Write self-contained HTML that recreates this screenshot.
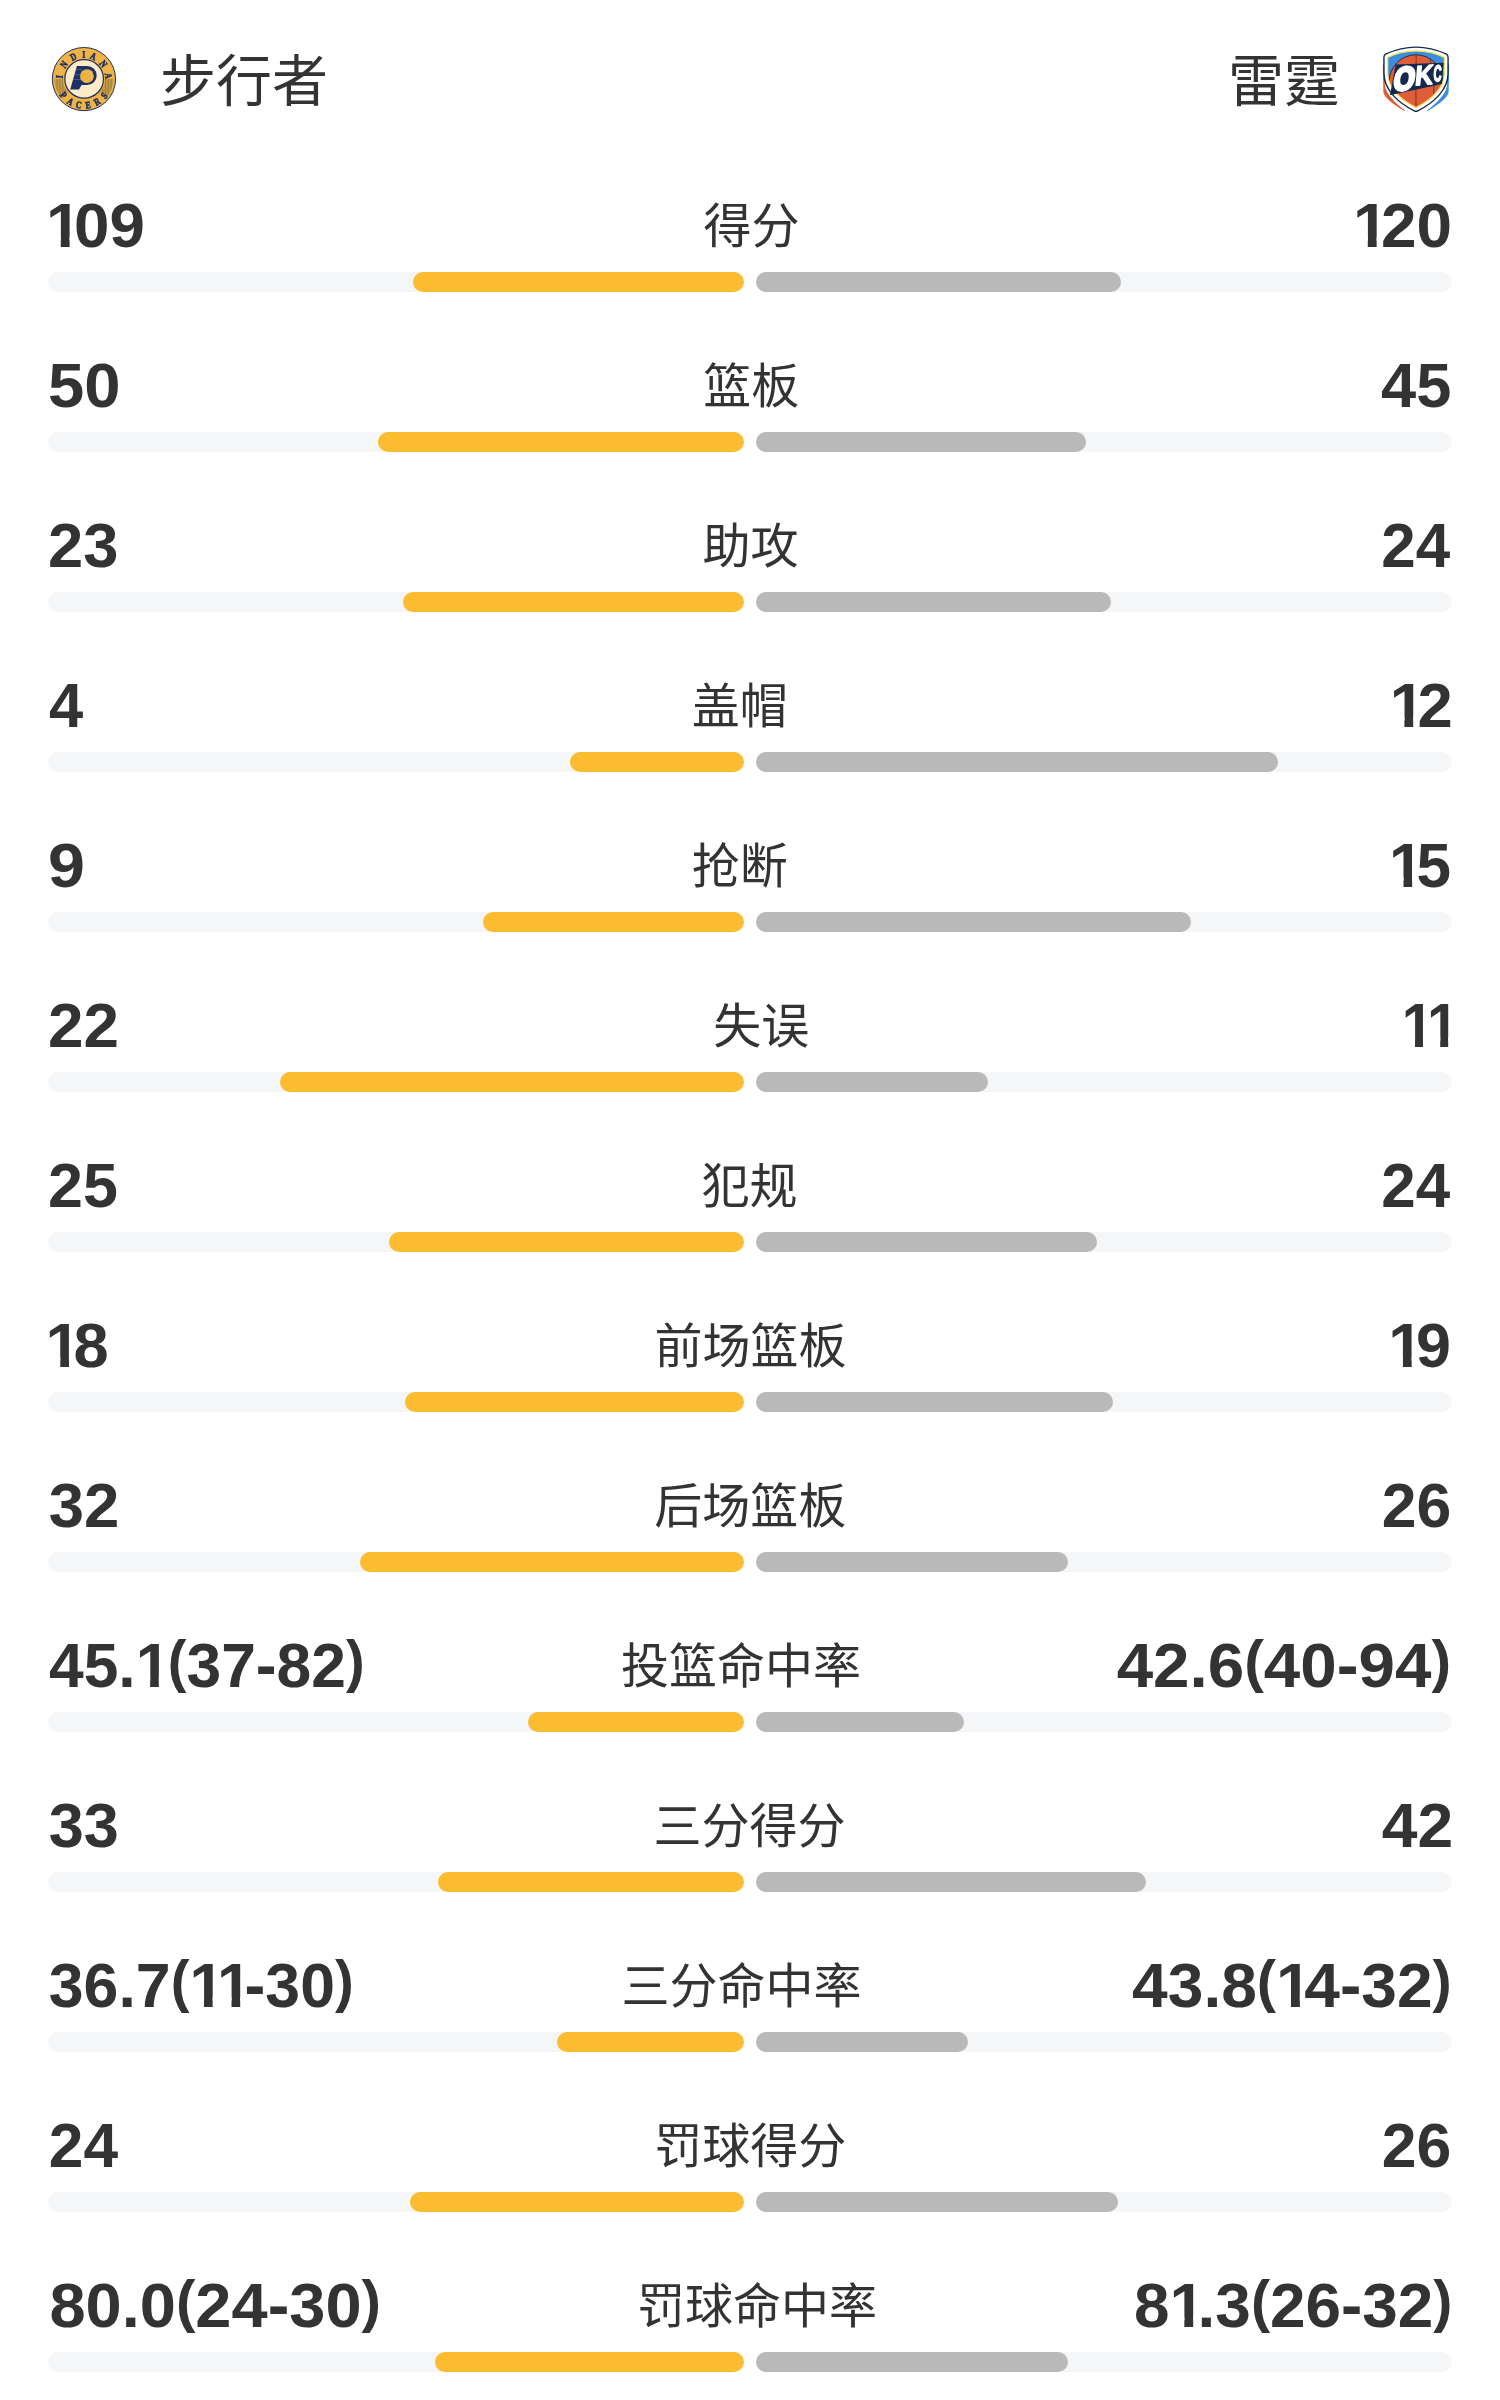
<!DOCTYPE html>
<html lang="zh-CN"><head><meta charset="utf-8"><title>技术统计</title>
<style>
html,body{margin:0;padding:0;background:#fff;}
body{width:1500px;height:2400px;position:relative;overflow:hidden;color:#333333;}
.nl,.nr,.lab,.team{filter:grayscale(1);}
.team{position:absolute;top:0;font-family:"Liberation Sans","Noto Sans CJK SC",sans-serif;font-size:56px;line-height:56px;white-space:nowrap;}
.logo{position:absolute;will-change:transform;}
.row{position:absolute;left:0;width:1500px;height:160px;}
.nl,.nr{position:absolute;top:194px;font-family:"Liberation Sans",sans-serif;font-weight:bold;font-size:63px;line-height:63px;white-space:nowrap;}
.nl{left:48px;transform-origin:0 50%;}
.p{font-size:56.7px;position:relative;top:-6.3px;}
.onep{margin-right:-2.5px !important;}
.one{display:inline-block;margin-right:-7.3px;clip-path:polygon(0 0,100% 0,100% 43px,23.4px 43px,23.4px 100%,14.65px 100%,14.65px 43px,0 43px);}
.nr{right:48px;transform-origin:100% 50%;}
.lab{position:absolute;top:203px;font-family:"Liberation Sans","Noto Sans CJK SC",sans-serif;font-size:48px;line-height:48px;white-space:nowrap;}
.tr{position:absolute;top:272px;height:20px;width:696px;border-radius:10px;background:#f5f6f8;}
.tl{left:48px;} .trr{left:756px;}
.bar{position:absolute;top:272px;height:20px;border-radius:10px;}
.by{background:#fbbc2f;} .bg{left:756px;background:#b9b9b9;}
</style></head><body>
<div class="logo" style="left:48px;top:43px;width:72px;height:72px"><svg width="72" height="72" viewBox="0 0 72 72">
<circle cx="35.95" cy="36.1" r="31.6" fill="#efb443" stroke="#1d2f66" stroke-width="1"/>
<clipPath id="pc_netL"><path d="M6.55 36.10 A29.4 29.4 0 0 0 13.76 55.39 L20.18 49.81 A20.9 20.9 0 0 1 15.05 36.10 Z"/></clipPath>
<clipPath id="pc_netR"><path d="M65.35 36.10 A29.4 29.4 0 0 1 58.14 55.39 L51.72 49.81 A20.9 20.9 0 0 0 56.85 36.10 Z"/></clipPath>
<g clip-path="url(#pc_netL)"><line x1="6.60" y1="30" x2="6.60" y2="60" stroke="#7a6844" stroke-width="0.75"/><line x1="8.15" y1="30" x2="8.15" y2="60" stroke="#7a6844" stroke-width="0.75"/><line x1="9.70" y1="30" x2="9.70" y2="60" stroke="#7a6844" stroke-width="0.75"/><line x1="11.25" y1="30" x2="11.25" y2="60" stroke="#7a6844" stroke-width="0.75"/><line x1="12.80" y1="30" x2="12.80" y2="60" stroke="#7a6844" stroke-width="0.75"/><line x1="14.35" y1="30" x2="14.35" y2="60" stroke="#7a6844" stroke-width="0.75"/><line x1="15.90" y1="30" x2="15.90" y2="60" stroke="#7a6844" stroke-width="0.75"/><line x1="17.45" y1="30" x2="17.45" y2="60" stroke="#7a6844" stroke-width="0.75"/><line x1="19.00" y1="30" x2="19.00" y2="60" stroke="#7a6844" stroke-width="0.75"/><line x1="20.55" y1="30" x2="20.55" y2="60" stroke="#7a6844" stroke-width="0.75"/><line x1="22.10" y1="30" x2="22.10" y2="60" stroke="#7a6844" stroke-width="0.75"/><line x1="23.65" y1="30" x2="23.65" y2="60" stroke="#7a6844" stroke-width="0.75"/></g>
<g clip-path="url(#pc_netR)"><line x1="65.30" y1="30" x2="65.30" y2="60" stroke="#7a6844" stroke-width="0.75"/><line x1="63.75" y1="30" x2="63.75" y2="60" stroke="#7a6844" stroke-width="0.75"/><line x1="62.20" y1="30" x2="62.20" y2="60" stroke="#7a6844" stroke-width="0.75"/><line x1="60.65" y1="30" x2="60.65" y2="60" stroke="#7a6844" stroke-width="0.75"/><line x1="59.10" y1="30" x2="59.10" y2="60" stroke="#7a6844" stroke-width="0.75"/><line x1="57.55" y1="30" x2="57.55" y2="60" stroke="#7a6844" stroke-width="0.75"/><line x1="56.00" y1="30" x2="56.00" y2="60" stroke="#7a6844" stroke-width="0.75"/><line x1="54.45" y1="30" x2="54.45" y2="60" stroke="#7a6844" stroke-width="0.75"/><line x1="52.90" y1="30" x2="52.90" y2="60" stroke="#7a6844" stroke-width="0.75"/><line x1="51.35" y1="30" x2="51.35" y2="60" stroke="#7a6844" stroke-width="0.75"/><line x1="49.80" y1="30" x2="49.80" y2="60" stroke="#7a6844" stroke-width="0.75"/><line x1="48.25" y1="30" x2="48.25" y2="60" stroke="#7a6844" stroke-width="0.75"/></g>
<circle cx="36.150000000000006" cy="35.9" r="19.3" fill="#fdebc7" stroke="#1d2f66" stroke-width="1.2"/>
<text x="0" y="3.6" transform="translate(11.16 33.71) rotate(275.5) scale(0.78 1)" text-anchor="middle" font-family="Liberation Serif, serif" font-weight="bold" font-size="10" fill="#1d2f66" stroke="#1d2f66" stroke-width="0.55">I</text>
<text x="0" y="3.6" transform="translate(15.81 21.46) rotate(306.0) scale(0.78 1)" text-anchor="middle" font-family="Liberation Serif, serif" font-weight="bold" font-size="10" fill="#1d2f66" stroke="#1d2f66" stroke-width="0.55">N</text>
<text x="0" y="3.6" transform="translate(25.23 13.63) rotate(334.5) scale(0.78 1)" text-anchor="middle" font-family="Liberation Serif, serif" font-weight="bold" font-size="10" fill="#1d2f66" stroke="#1d2f66" stroke-width="0.55">D</text>
<text x="0" y="3.6" transform="translate(35.82 11.20) rotate(359.7) scale(0.78 1)" text-anchor="middle" font-family="Liberation Serif, serif" font-weight="bold" font-size="10" fill="#1d2f66" stroke="#1d2f66" stroke-width="0.55">I</text>
<text x="0" y="3.6" transform="translate(45.56 13.13) rotate(382.7) scale(0.78 1)" text-anchor="middle" font-family="Liberation Serif, serif" font-weight="bold" font-size="10" fill="#1d2f66" stroke="#1d2f66" stroke-width="0.55">A</text>
<text x="0" y="3.6" transform="translate(55.62 20.84) rotate(412.2) scale(0.78 1)" text-anchor="middle" font-family="Liberation Serif, serif" font-weight="bold" font-size="10" fill="#1d2f66" stroke="#1d2f66" stroke-width="0.55">N</text>
<text x="0" y="3.6" transform="translate(60.63 32.76) rotate(442.3) scale(0.78 1)" text-anchor="middle" font-family="Liberation Serif, serif" font-weight="bold" font-size="10" fill="#1d2f66" stroke="#1d2f66" stroke-width="0.55">A</text>
<text x="0" y="3.6" transform="translate(15.48 51.97) rotate(52.2) scale(0.78 1)" text-anchor="middle" font-family="Liberation Serif, serif" font-weight="bold" font-size="10" fill="#1d2f66" stroke="#1d2f66" stroke-width="0.55">P</text>
<text x="0" y="3.6" transform="translate(22.61 58.30) rotate(31.0) scale(0.78 1)" text-anchor="middle" font-family="Liberation Serif, serif" font-weight="bold" font-size="10" fill="#1d2f66" stroke="#1d2f66" stroke-width="0.55">A</text>
<text x="0" y="3.6" transform="translate(30.65 61.45) rotate(11.8) scale(0.78 1)" text-anchor="middle" font-family="Liberation Serif, serif" font-weight="bold" font-size="10" fill="#1d2f66" stroke="#1d2f66" stroke-width="0.55">C</text>
<text x="0" y="3.6" transform="translate(40.09 61.67) rotate(-9.2) scale(0.78 1)" text-anchor="middle" font-family="Liberation Serif, serif" font-weight="bold" font-size="10" fill="#1d2f66" stroke="#1d2f66" stroke-width="0.55">E</text>
<text x="0" y="3.6" transform="translate(48.90 58.53) rotate(-30.0) scale(0.78 1)" text-anchor="middle" font-family="Liberation Serif, serif" font-weight="bold" font-size="10" fill="#1d2f66" stroke="#1d2f66" stroke-width="0.55">R</text>
<text x="0" y="3.6" transform="translate(56.05 52.43) rotate(-50.9) scale(0.78 1)" text-anchor="middle" font-family="Liberation Serif, serif" font-weight="bold" font-size="10" fill="#1d2f66" stroke="#1d2f66" stroke-width="0.55">S</text>
<path d="M28.9 23.1 L39.3 23.1 A9.4 9.4 0 0 1 39.3 41.9 L33.6 41.9 L31 46.6 L22.2 46.6 Z" fill="#1d2f66"/>
<line x1="28.20" y1="26.6" x2="34" y2="26.6" stroke="#7f90bd" stroke-width="0.45"/>
<line x1="26.78" y1="31.6" x2="34" y2="31.6" stroke="#7f90bd" stroke-width="0.45"/>
<line x1="25.35" y1="36.6" x2="34" y2="36.6" stroke="#7f90bd" stroke-width="0.45"/>
<circle cx="38.9" cy="33.2" r="6.9" fill="#ebb03c"/>
<path d="M33.5 36.5 Q39 33 44.5 28.5 M36 39.5 Q41 35 45.3 33.5 M34 29 Q38 31 41 27 M42 27 Q44 31 43.5 38" stroke="#f6d58a" stroke-width="0.5" fill="none"/>
</svg></div>
<div class="team" style="left:160px;top:54px">步行者</div>
<div class="team" style="left:1228px;top:54px">雷霆</div>
<div class="logo" style="left:1380px;top:44px;width:72px;height:72px"><svg width="72" height="72" viewBox="0 0 72 72">
<defs><clipPath id="okc_in"><path d="M7.7 13.4 Q36 0.5 64.3 13.4 L64.2 30 C64 43 53 55 36 63.5 C19 55 8 43 7.8 30 Z"/></clipPath></defs>
<path d="M2.8 20.5 L4.6 20.5 L5 42 C6.5 50 14 58 25.2 66.6 L24.6 67 C12 60 4.2 53 3.4 48.5 Z" fill="#df5e3a"/>
<path d="M69.2 20.5 L67.4 20.5 L67 42 C65.5 50 58 58 46.8 66.6 L47.4 67 C60 60 67.8 53 68.6 48.5 Z" fill="#3b8de0"/>
<path d="M7.7 13.4 Q36 0.5 64.3 13.4 L64.2 30 C64 43 53 55 36 63.5 C19 55 8 43 7.8 30 Z" fill="none" stroke="#15294d" stroke-width="9.0" stroke-linejoin="round"/>
<path d="M7.7 13.4 Q36 0.5 64.3 13.4 L64.2 30 C64 43 53 55 36 63.5 C19 55 8 43 7.8 30 Z" fill="none" stroke="#ffffff" stroke-width="6.2" stroke-linejoin="round"/>
<g clip-path="url(#okc_in)"><rect x="0" y="0" width="72" height="72" fill="#3b8de0"/><circle cx="36" cy="37.6" r="26.8" fill="#df5e3a"/><circle cx="36" cy="37.6" r="26.8" fill="none" stroke="#15294d" stroke-width="0.9"/><path d="M36.2 10.8 Q35.6 38 36 66" stroke="#7a2f24" stroke-width="0.9" fill="none"/><path d="M50 15.5 Q55 30 53.8 50" stroke="#15294d" stroke-width="0.7" fill="none"/></g>
<path d="M7.7 13.4 Q36 0.5 64.3 13.4 L64.2 30 C64 43 53 55 36 63.5 C19 55 8 43 7.8 30 Z" fill="none" stroke="#fbe14a" stroke-width="1.2" stroke-linejoin="round"/>
<path d="M15.6 20.4 L63.6 18.8 L62 40 L10 51.2 Z" fill="#15294d"/>
<text x="0" y="0" transform="translate(12.4 47.2) rotate(-7) skewX(-14) scale(0.86 1)" font-family="Liberation Sans, sans-serif" font-weight="bold" font-size="32" fill="#ffffff" stroke="#ffffff" stroke-width="3.0" stroke-linejoin="round">O</text>
<text x="0" y="0" transform="translate(34.6 41.6) rotate(-5) skewX(-10) scale(0.9 1)" font-family="Liberation Sans, sans-serif" font-weight="bold" font-size="27.5" fill="#ffffff" stroke="#ffffff" stroke-width="1.5" stroke-linejoin="round">K</text>
<text x="0" y="0" transform="translate(53.2 37.6) rotate(-4) skewX(-6) scale(0.5 1)" font-family="Liberation Sans, sans-serif" font-weight="bold" font-size="22.5" fill="#ffffff" stroke="#ffffff" stroke-width="1.6" stroke-linejoin="round">C</text>
</svg></div>
<div class="row" style="top:0px">
<div class="nl" style="transform:translateX(-2.04px) scaleX(1.0110)"><span class="one">1</span>09</div>
<div class="lab" style="left:703.60px">得分</div>
<div class="nr" style="transform:translateX(0.24px) scaleX(1.0133)"><span class="one">1</span>20</div>
<div class="tr tl"></div><div class="tr trr"></div>
<div class="bar by" style="left:412.72px;width:331.28px"></div>
<div class="bar bg" style="width:364.72px"></div>
</div>
<div class="row" style="top:160px">
<div class="nl" style="transform:translateX(-0.07px) scaleX(1.0354)">50</div>
<div class="lab" style="left:703.20px">篮板</div>
<div class="nr" style="transform:translateX(-0.79px) scaleX(1.0030)">45</div>
<div class="tr tl"></div><div class="tr trr"></div>
<div class="bar by" style="left:377.68px;width:366.32px"></div>
<div class="bar bg" style="width:329.68px"></div>
</div>
<div class="row" style="top:320px">
<div class="nl" style="transform:translateX(-0.01px) scaleX(1.0045)">23</div>
<div class="lab" style="left:702.40px">助攻</div>
<div class="nr" style="transform:translateX(-2.00px) scaleX(0.9824)">24</div>
<div class="tr tl"></div><div class="tr trr"></div>
<div class="bar by" style="left:403.40px;width:340.60px"></div>
<div class="bar bg" style="width:355.40px"></div>
</div>
<div class="row" style="top:480px">
<div class="nl" style="transform:translateX(1.02px) scaleX(0.9765)">4</div>
<div class="lab" style="left:691.80px">盖帽</div>
<div class="nr" style="transform:translateX(1.02px) scaleX(1.0055)"><span class="one">1</span>2</div>
<div class="tr tl"></div><div class="tr trr"></div>
<div class="bar by" style="left:570.00px;width:174.00px"></div>
<div class="bar bg" style="width:522.00px"></div>
</div>
<div class="row" style="top:640px">
<div class="nl" style="transform:translateX(-0.11px) scaleX(1.0548)">9</div>
<div class="lab" style="left:691.80px">抢断</div>
<div class="nr" style="transform:translateX(-0.83px) scaleX(0.9857)"><span class="one">1</span>5</div>
<div class="tr tl"></div><div class="tr trr"></div>
<div class="bar by" style="left:483.00px;width:261.00px"></div>
<div class="bar bg" style="width:435.00px"></div>
</div>
<div class="row" style="top:800px">
<div class="nl" style="transform:translateX(-0.02px) scaleX(1.0123)">22</div>
<div class="lab" style="left:713.20px">失误</div>
<div class="nr" style="transform:translateX(-0.37px) scaleX(0.9085)"><span class="one">1</span><span class="one">1</span></div>
<div class="tr tl"></div><div class="tr trr"></div>
<div class="bar by" style="left:280.00px;width:464.00px"></div>
<div class="bar bg" style="width:232.00px"></div>
</div>
<div class="row" style="top:960px">
<div class="nl" style="transform:translateX(0.01px) scaleX(0.9970)">25</div>
<div class="lab" style="left:701.40px">犯规</div>
<div class="nr" style="transform:translateX(-2.00px) scaleX(0.9824)">24</div>
<div class="tr tl"></div><div class="tr trr"></div>
<div class="bar by" style="left:388.90px;width:355.10px"></div>
<div class="bar bg" style="width:340.90px"></div>
</div>
<div class="row" style="top:1120px">
<div class="nl" style="transform:translateX(-2.41px) scaleX(1.0018)"><span class="one">1</span>8</div>
<div class="lab" style="left:654.40px">前场篮板</div>
<div class="nr" style="transform:translateX(-0.80px) scaleX(0.9982)"><span class="one">1</span>9</div>
<div class="tr tl"></div><div class="tr trr"></div>
<div class="bar by" style="left:405.41px;width:338.59px"></div>
<div class="bar bg" style="width:357.41px"></div>
</div>
<div class="row" style="top:1280px">
<div class="nl" style="transform:translateX(0.78px) scaleX(1.0077)">32</div>
<div class="lab" style="left:654.20px">后场篮板</div>
<div class="nr" style="transform:translateX(-0.82px) scaleX(0.9924)">26</div>
<div class="tr tl"></div><div class="tr trr"></div>
<div class="bar by" style="left:360.00px;width:384.00px"></div>
<div class="bar bg" style="width:312.00px"></div>
</div>
<div class="row" style="top:1440px">
<div class="nl" style="transform:translateX(1.01px) scaleX(0.9892)">45.<span class="one onep">1</span><span class="p">(</span>37-82<span class="p">)</span></div>
<div class="lab" style="left:621.00px">投篮命中率</div>
<div class="nr" style="transform:translateX(-0.38px) scaleX(1.0404)">42.6<span class="p">(</span>40-94<span class="p">)</span></div>
<div class="tr tl"></div><div class="tr trr"></div>
<div class="bar by" style="left:527.67px;width:216.33px"></div>
<div class="bar bg" style="width:207.92px"></div>
</div>
<div class="row" style="top:1600px">
<div class="nl" style="transform:translateX(0.80px) scaleX(1.0000)">33</div>
<div class="lab" style="left:653.60px">三分得分</div>
<div class="nr" style="transform:translateX(1.06px) scaleX(1.0197)">42</div>
<div class="tr tl"></div><div class="tr trr"></div>
<div class="bar by" style="left:437.76px;width:306.24px"></div>
<div class="bar bg" style="width:389.76px"></div>
</div>
<div class="row" style="top:1760px">
<div class="nl" style="transform:translateX(0.81px) scaleX(0.9934)">36.7<span class="p">(</span><span class="one">1</span><span class="one">1</span>-30<span class="p">)</span></div>
<div class="lab" style="left:621.60px">三分命中率</div>
<div class="nr" style="transform:translateX(-0.45px) scaleX(1.0174)">43.8<span class="p">(</span><span class="one">1</span>4-32<span class="p">)</span></div>
<div class="tr tl"></div><div class="tr trr"></div>
<div class="bar by" style="left:557.14px;width:186.86px"></div>
<div class="bar bg" style="width:211.99px"></div>
</div>
<div class="row" style="top:1920px">
<div class="nl" style="transform:translateX(0.82px) scaleX(0.9882)">24</div>
<div class="lab" style="left:654.20px">罚球得分</div>
<div class="nr" style="transform:translateX(-0.82px) scaleX(0.9924)">26</div>
<div class="tr tl"></div><div class="tr trr"></div>
<div class="bar by" style="left:409.92px;width:334.08px"></div>
<div class="bar bg" style="width:361.92px"></div>
</div>
<div class="row" style="top:2080px">
<div class="nl" style="transform:translateX(1.44px) scaleX(1.0312)">80.0<span class="p">(</span>24-30<span class="p">)</span></div>
<div class="lab" style="left:637.00px">罚球命中率</div>
<div class="nr" style="transform:translateX(0.24px) scaleX(1.0136)">8<span class="one">1</span>.3<span class="p">(</span>26-32<span class="p">)</span></div>
<div class="tr tl"></div><div class="tr trr"></div>
<div class="bar by" style="left:434.67px;width:309.33px"></div>
<div class="bar bg" style="width:312.11px"></div>
</div>
</body></html>
